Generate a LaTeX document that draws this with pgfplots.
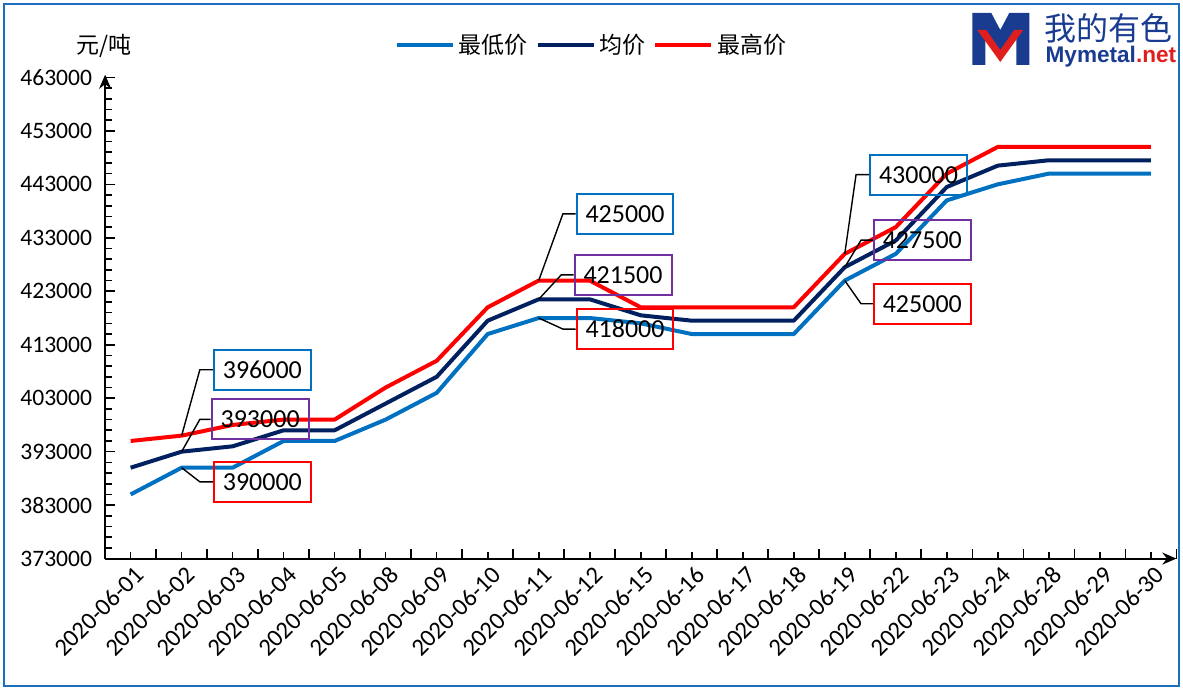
\documentclass[border=0pt]{standalone}
\usepackage{pgfplots}
\pgfplotsset{compat=1.18}
\usepackage{pgfplotstable}
\usepackage{fontspec}
\setmainfont{Carlito}
\newfontfamily\cjk{Noto Sans CJK SC}
\newfontfamily\arialf{Liberation Sans}
\usetikzlibrary{arrows.meta}
\definecolor{cmin}{RGB}{0,112,192}
\definecolor{cavg}{RGB}{0,32,96}
\definecolor{cmax}{RGB}{255,0,0}
\definecolor{cpurple}{RGB}{112,48,160}
\definecolor{cframe}{RGB}{30,110,190}
\definecolor{logoblue}{RGB}{25,60,145}
\definecolor{logored}{RGB}{225,30,30}

\pgfplotstableread{
i min avg max
0 385000 390000 395000
1 390000 393000 396000
2 390000 394000 398000
3 395000 397000 399000
4 395000 397000 399000
5 399000 402000 405000
6 404000 407000 410000
7 415000 417500 420000
8 418000 421500 425000
9 418000 421500 425000
10 417000 418500 420000
11 415000 417500 420000
12 415000 417500 420000
13 415000 417500 420000
14 425000 427500 430000
15 430000 432500 435000
16 440000 442500 445000
17 443000 446500 450000
18 445000 447500 450000
19 445000 447500 450000
20 445000 447500 450000
}\pricedata

\begin{document}
\begin{tikzpicture}
\begin{scope}[x=0.5pt,y=-0.5pt]
\useasboundingbox (0,0) rectangle (1183,689);
\end{scope}
\begin{axis}[
  at={(52.6pt,-279.5pt)}, anchor=south west,
  scale only axis, width=536pt, height=242.1pt,
  xmin=-0.5, xmax=20.5, ymin=373000, ymax=463500,
  axis lines=left,
  axis line style={line width=1pt, -{Stealth[length=7pt,width=6pt]}},
  tick align=inside,
  major tick length=5pt, minor tick length=3.2pt,
  every tick/.style={black, line width=0.8pt},
  ytick={373000,383000,...,463000},
  minor y tick num=4,
  scaled y ticks=false,
  /pgf/number format/.cd, fixed, 1000 sep={}, assume math mode=true, /pgfplots/.cd,
  yticklabel style={font=\fontsize{11.8}{14}\selectfont, xshift=-3pt},
  xtick={-0.5,0.5,...,20.5},
  xticklabels={},
  extra x ticks={0,1,...,20},
  extra x tick labels={2020-06-01,2020-06-02,2020-06-03,2020-06-04,2020-06-05,2020-06-08,2020-06-09,2020-06-10,2020-06-11,2020-06-12,2020-06-15,2020-06-16,2020-06-17,2020-06-18,2020-06-19,2020-06-22,2020-06-23,2020-06-24,2020-06-28,2020-06-29,2020-06-30},
  extra x tick style={major tick length=3.2pt, tick label style={font=\fontsize{12.3}{14}\selectfont, rotate=45, anchor=north east, inner sep=1pt, yshift=-2pt}},
  legend columns=3,
  legend style={at={(0.455,1.0615)}, anchor=center, draw=none, fill=none,
    font=\cjk\fontsize{11.5}{13}\selectfont,
    /tikz/every even column/.append style={column sep=2pt}},
  legend image code/.code={\draw[#1] (0pt,0pt) -- (28pt,0pt);},
  clip=false,
]
\addplot[cmin, line width=2pt, line join=round] table[x=i, y=min] {\pricedata};
\addlegendentry{最低价}
\addplot[cavg, line width=2pt, line join=round] table[x=i, y=avg] {\pricedata};
\addlegendentry{均价}
\addplot[cmax, line width=2pt, line join=round] table[x=i, y=max] {\pricedata};
\addlegendentry{最高价}

\tikzset{abox/.style={line width=1pt, minimum width=48.5pt, minimum height=20pt, inner sep=0pt, font=\fontsize{13}{15}\selectfont}}
\node[abox, draw=cmin] (a1) at (axis cs:2.582,408324) {396000};
\node[abox, draw=cpurple] (a2) at (axis cs:2.539,399035) {393000};
\node[abox, draw=cmax] (a3) at (axis cs:2.582,387354) {390000};
\node[abox, draw=cmin] (b1) at (axis cs:9.692,437480) {425000};
\node[abox, draw=cpurple] (b2) at (axis cs:9.653,426080) {421500};
\node[abox, draw=cmax] (b3) at (axis cs:9.692,415931) {418000};
\node[abox, draw=cmin] (c1) at (axis cs:15.446,444807) {430000};
\node[abox, draw=cpurple] (c2) at (axis cs:15.520,432565) {427500};
\node[abox, draw=cmax] (c3) at (axis cs:15.520,420660) {425000};

\draw[black, line width=0.7pt] (axis cs:1,396000) -- (axis cs:1.357,408324) -- (a1.west);
\draw[black, line width=0.7pt] (axis cs:1,393000) -- (axis cs:1.357,399035) -- (a2.west);
\draw[black, line width=0.7pt] (axis cs:1,390000) -- (axis cs:1.357,387354) -- (a3.west);
\draw[black, line width=0.7pt] (axis cs:8,425000) -- (axis cs:8.474,437480) -- (b1.west);
\draw[black, line width=0.7pt] (axis cs:8,421500) -- (axis cs:8.443,426080) -- (b2.west);
\draw[black, line width=0.7pt] (axis cs:8,418000) -- (axis cs:8.474,415931) -- (b3.west);
\draw[black, line width=0.7pt] (axis cs:14,430000) -- (axis cs:14.221,444807) -- (c1.west);
\draw[black, line width=0.7pt] (axis cs:14,427500) -- (axis cs:14.319,432565) -- (c2.west);
\draw[black, line width=0.7pt] (axis cs:14,425000) -- (axis cs:14.319,420660) -- (c3.west);
\end{axis}

\begin{scope}[x=0.5pt,y=-0.5pt]
% frame
\draw[cframe, line width=1pt] (4,4) rectangle (1180,686);
% y unit
\node[font=\cjk\fontsize{11.5}{13}\selectfont] at (104,46) {元/吨};
% logo
\fill[logoblue] (973,13) -- (992,13) -- (1001,30) -- (1010,13) -- (1030,13) -- (1030,65) -- (1017,65) -- (1017,34) -- (1001,56) -- (986,34) -- (986,65) -- (973,65) -- cycle;
\fill[logored] (978,30) -- (987,30) -- (1001,50) -- (1015,30) -- (1024,30) -- (1001,62) -- cycle;
\node[anchor=west, inner sep=0pt, text=logoblue, font=\cjk\fontsize{16}{18}\selectfont] at (1045,28) {我的有色};
\node[anchor=west, inner sep=0pt, font=\arialf\bfseries\fontsize{11.3}{13}\selectfont] at (1046,57) {\textcolor{logoblue}{Mymetal}\textcolor{logored}{.net}};
\end{scope}
\end{tikzpicture}
\end{document}
